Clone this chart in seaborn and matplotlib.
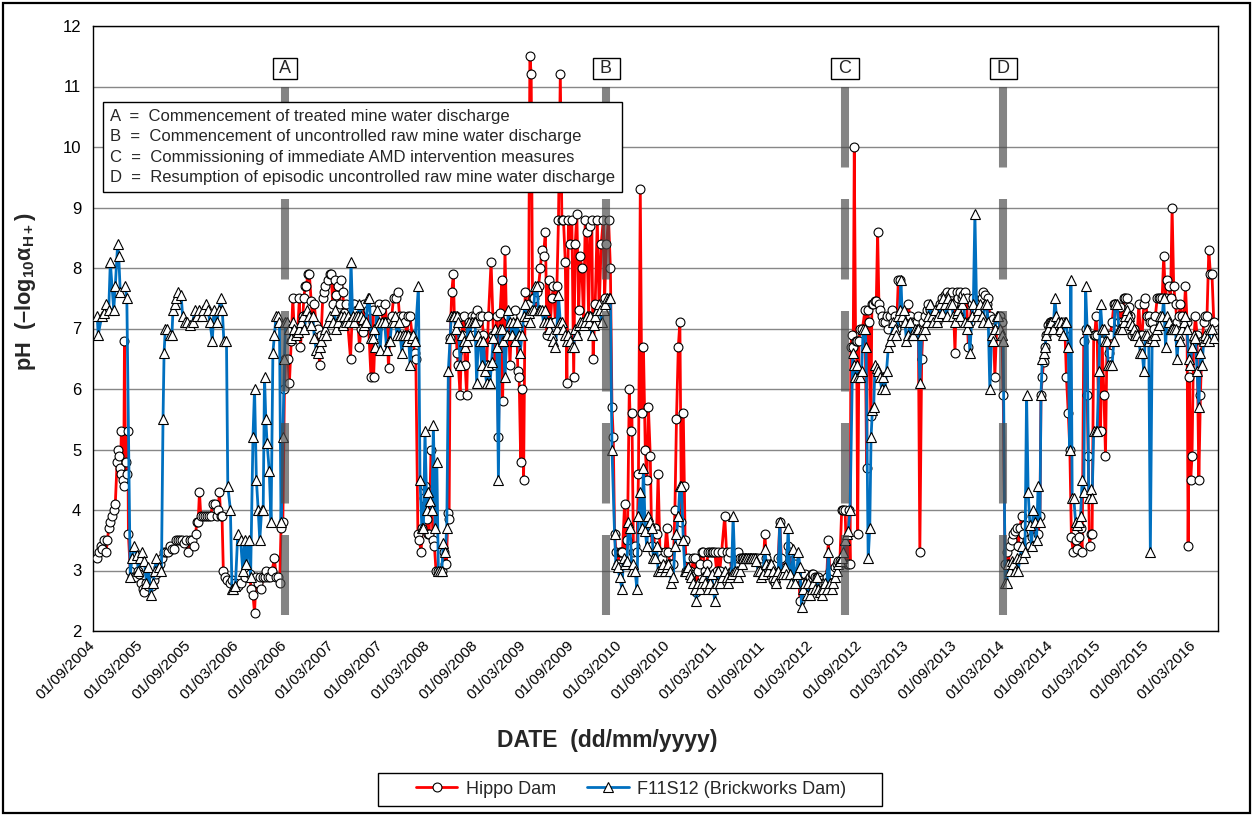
import numpy as np
import pandas as pd
import matplotlib
matplotlib.use("Agg")
import matplotlib.pyplot as plt
import matplotlib.dates as mdates
from matplotlib.lines import Line2D
from matplotlib.patches import Rectangle
import seaborn as sns

# ---------------- data (day offsets from 01/09/2004, pH) ----------------
start_date = "2004-09-01"

hippo_day = [
    16, 23, 29, 35, 41, 50, 55, 60, 66, 73, 79, 85, 92, 95, 98, 102, 105, 108, 113, 117, 120, 124, 128, 133, 135,
    142, 148, 157, 163, 171, 177, 183, 189, 196, 202, 211, 218, 226, 233, 241, 248, 256, 263, 271, 278, 286, 293,
    301, 308, 316, 324, 331, 339, 346, 354, 361, 369, 376, 384, 391, 396, 401, 406, 411, 419, 426, 434, 441, 449,
    456, 464, 472, 477, 482, 487, 492, 497, 504, 512, 522, 530,
    540, 552, 565, 578, 588, 597, 603, 610, 616, 622, 629, 635, 641, 648, 654, 660, 667, 676, 683, 692, 698, 705,
    712, 717, 724, 730, 734, 738, 743, 749, 756, 762, 768, 775, 781, 787, 791, 796, 800, 804, 809, 814, 819, 825,
    832, 838, 844, 851, 857, 864, 870, 876, 881, 886, 895, 902, 908, 914, 921, 927, 933, 940, 946, 952, 959, 965,
    971, 982, 990, 997, 1007, 1016, 1022, 1029, 1035, 1048, 1060, 1068,
    1070, 1076, 1084, 1091, 1099, 1108, 1114, 1120, 1127, 1133, 1139, 1146, 1155, 1162, 1169, 1178, 1184, 1190,
    1197, 1203, 1209, 1218, 1226, 1231, 1239, 1245, 1251, 1256, 1261, 1266, 1272, 1277, 1282, 1289, 1296, 1302,
    1308, 1315, 1322, 1330, 1338, 1343, 1348, 1353, 1358, 1362, 1368, 1374, 1378, 1383, 1388, 1393, 1400, 1406,
    1413, 1419, 1425, 1432, 1438, 1444, 1451, 1457, 1463, 1470, 1476, 1482, 1489, 1495, 1501, 1508, 1518, 1527,
    1533, 1540, 1546, 1552, 1559, 1562, 1571, 1578, 1584, 1590, 1597, 1603,
    1610, 1617, 1620, 1625, 1631, 1636, 1642, 1648, 1655, 1661, 1666, 1671, 1676, 1681, 1686, 1693, 1699, 1706,
    1712, 1718, 1725, 1731, 1737, 1744, 1750, 1756, 1763, 1769, 1775, 1782, 1788, 1794, 1801, 1807, 1813, 1820,
    1826, 1833, 1839, 1845, 1852, 1858, 1864, 1871, 1877, 1883, 1890, 1896, 1902, 1907, 1915, 1923, 1930, 1938,
    1946, 1951, 1958, 1966, 1973, 1979, 1984, 1989, 1995, 2001, 2008, 2014, 2019, 2027, 2032, 2038, 2045, 2050,
    2055, 2061, 2067, 2074, 2080, 2087, 2093, 2099, 2106, 2112, 2118, 2125, 2131, 2137,
    2143, 2149, 2155, 2162, 2168, 2174, 2181, 2187, 2194, 2200, 2206, 2213, 2219, 2225, 2232, 2238, 2244, 2251,
    2255, 2258, 2263, 2270, 2276, 2282, 2289, 2295, 2301, 2308, 2314, 2321, 2327, 2333, 2340, 2346, 2352, 2359,
    2365, 2371, 2378, 2384, 2390, 2397, 2409, 2416, 2422, 2428, 2435, 2441, 2448, 2454, 2460, 2467, 2473, 2479,
    2486, 2492, 2498, 2505, 2511, 2517, 2524, 2530, 2536, 2543, 2549, 2555, 2562, 2568, 2575, 2581, 2587, 2594,
    2600, 2606, 2613, 2619, 2625, 2632, 2638, 2644, 2651, 2657, 2663, 2670,
    2677, 2683, 2690, 2696, 2702, 2709, 2715, 2721, 2728, 2734, 2741, 2747, 2753, 2760, 2766, 2772, 2779, 2785,
    2791, 2798, 2804, 2810, 2817, 2823, 2829, 2836, 2842, 2848, 2855, 2861, 2868, 2874, 2879, 2883, 2887, 2890,
    2894, 2899, 2903, 2908, 2912, 2916, 2921, 2926, 2934, 2944, 2950, 2954, 2959, 2967, 2970, 2975, 2982, 2987,
    2992, 2997, 3002, 3007, 3014, 3020, 3026, 3033, 3039, 3045, 3052, 3058, 3064, 3071, 3077, 3083, 3090, 3096,
    3102, 3109, 3115, 3122, 3128, 3134, 3141, 3147, 3153, 3160, 3166, 3172, 3179, 3185, 3191, 3198, 3204,
    3211, 3217, 3224, 3230, 3236, 3243, 3249, 3255, 3262, 3268, 3274, 3281, 3287, 3293, 3300, 3306, 3312, 3319,
    3325, 3331, 3338, 3344, 3351, 3357, 3363, 3370, 3376, 3382, 3389, 3395, 3401, 3408, 3414, 3420, 3427, 3433,
    3439, 3446, 3452, 3458, 3465, 3471, 3478, 3484, 3490, 3497, 3503, 3509, 3516, 3522, 3528, 3535, 3541, 3547,
    3554, 3560, 3566, 3573, 3579, 3585, 3592, 3598, 3604, 3611, 3615, 3620, 3625, 3630, 3636, 3643, 3649, 3655,
    3662, 3668, 3674, 3681, 3687, 3693, 3700, 3706, 3712, 3719, 3725, 3731, 3738,
    3747, 3753, 3759, 3766, 3772, 3778, 3785, 3791, 3795, 3800, 3805, 3810, 3816, 3820, 3825, 3829, 3836, 3842,
    3848, 3855, 3861, 3867, 3874, 3880, 3886, 3893, 3899, 3905, 3912, 3918, 3924, 3931, 3937, 3943, 3950, 3956,
    3963, 3969, 3975, 3982, 3988, 3994, 4001, 4007, 4013, 4020, 4026, 4032, 4039, 4045, 4051, 4058, 4064, 4070,
    4077, 4083, 4090, 4096, 4102, 4109, 4115, 4121, 4128, 4134, 4140, 4147, 4153, 4159, 4166, 4172, 4176, 4181,
    4186, 4191, 4197, 4204, 4210, 4217, 4223, 4229, 4236, 4242, 4248, 4255, 4261, 4267, 4274,
]
hippo_ph = [
    3.2, 3.3, 3.4, 3.35, 3.5, 3.3, 3.5, 3.7, 3.8, 3.9, 4.0, 4.1, 4.8, 5.0, 4.9, 4.7, 4.6, 5.3, 4.5, 4.4, 6.8, 4.8,
    4.6, 5.3, 3.6, 3.0, 2.9, 2.9, 2.9, 3.0, 2.95, 2.8, 2.7, 2.65, 2.8, 2.75, 2.8, 2.75, 2.85, 2.95, 3.05, 3.1,
    3.2, 3.3, 3.3, 3.3, 3.4, 3.35, 3.35, 3.5, 3.5, 3.5, 3.5, 3.45, 3.5, 3.3, 3.5, 3.5, 3.4, 3.6, 3.8, 3.8, 4.3,
    3.9, 3.9, 3.9, 3.9, 3.9, 3.9, 4.1, 4.1, 3.9, 4.0, 4.3, 3.9, 3.9, 3.0, 2.9, 2.85, 2.8, 2.85,
    2.8, 2.75, 2.8, 2.9, 3.0, 2.95, 2.7, 2.6, 2.3, 2.9, 2.8, 2.9, 2.7, 2.9, 2.9, 3.0, 2.9, 2.9, 3.0, 3.2, 2.9,
    2.9, 2.8, 3.7, 3.8, 6.0, 6.5, 6.5, 6.5, 6.1, 6.8, 7.5, 6.9, 6.9, 7.0, 7.5, 6.7, 7.0, 7.2, 7.5, 7.7, 7.7, 7.9,
    7.9, 7.45, 7.1, 7.4, 7.05, 7.0, 6.4, 6.9, 7.5, 7.6, 7.7, 7.8, 7.9, 7.9, 7.4, 7.8, 7.55, 7.7, 7.4, 7.8, 7.6,
    7.25, 7.4, 7.1, 6.5, 7.4, 7.4, 7.3, 6.7, 7.0, 6.95, 7.4, 7.3, 6.2, 7.3,
    6.2, 6.9, 7.0, 7.4, 7.3, 7.1, 7.4, 7.1, 6.35, 7.1, 7.2, 7.5, 7.5, 7.6, 7.2, 7.1, 7.2, 7.1, 6.9, 7.2, 7.2,
    6.85, 6.6, 6.5, 3.6, 3.5, 3.3, 3.7, 4.2, 4.4, 3.85, 3.6, 3.6, 5.0, 3.5, 3.4, 3.0, 3.0, 3.0, 3.0, 3.3, 3.1,
    3.1, 3.95, 3.85, 6.85, 7.6, 7.9, 7.2, 7.2, 6.6, 6.4, 5.9, 6.9, 7.2, 6.4, 5.9, 7.1, 7.0, 7.2, 6.9, 7.2, 7.3,
    7.1, 7.2, 7.2, 6.9, 6.4, 6.4, 7.2, 8.1, 6.9, 6.4, 7.2, 5.2, 7.25, 7.8, 5.8, 8.3, 6.9, 7.2, 6.4, 7.2, 6.9,
    7.3, 6.9, 6.3, 6.2, 4.8, 6.0, 4.5, 7.6, 7.1, 7.4, 11.5, 11.2, 7.5, 7.5, 7.3, 7.6, 7.7, 8.0, 8.3, 8.2, 8.6,
    6.9, 7.8, 7.1, 7.5, 7.7, 7.1, 7.7, 8.8, 11.2, 8.8, 8.8, 8.1, 6.1, 8.8, 8.4, 8.8, 6.2, 8.4, 8.9, 7.3, 8.2,
    8.0, 7.1, 8.8, 8.6, 7.2, 8.7, 8.8, 6.5, 7.4, 8.8, 7.3, 8.4, 8.8, 7.5, 8.4, 8.8, 8.0, 5.7, 5.2, 3.6, 3.3,
    3.1, 3.3, 3.3, 3.3, 4.1, 3.1, 3.5, 6.0, 5.3, 5.6, 3.3, 3.4, 3.3, 4.6, 9.3, 5.6, 6.7, 5.0, 4.5, 5.7, 4.9,
    3.4, 3.3,
    3.7, 3.6, 4.6, 3.3, 3.2, 3.0, 3.3, 3.7, 3.3, 3.1, 3.1, 3.1, 4.0, 5.5, 6.7, 7.1, 3.8, 5.6, 4.4, 3.5, 3.0,
    3.2, 3.0, 2.95, 3.2, 3.2, 2.65, 3.0, 3.1, 3.3, 3.3, 3.0, 3.1, 3.3, 3.3, 3.3, 3.3, 3.3, 3.0, 3.3, 3.0, 3.3,
    3.9, 3.3, 3.2, 3.3, 3.0, 3.0, 3.1, 3.2, 3.3, 3.2, 3.2, 3.2, 3.2, 3.2, 3.2, 3.2, 3.2, 3.2, 3.2, 3.2, 3.2,
    3.1, 3.2, 3.0, 3.6, 3.2, 3.1, 3.0, 3.0, 2.85, 2.8, 3.1, 3.2, 3.8, 3.2, 2.95, 3.0, 3.05, 3.4, 3.3, 2.95, 3.0,
    3.1, 2.9, 3.0, 2.5, 2.9, 2.8, 2.95, 2.8, 2.85, 2.9, 2.95, 2.95, 2.9, 2.9, 2.9, 2.8, 2.85, 2.8, 2.8, 2.9,
    3.5, 3.0, 2.95, 3.0, 3.05, 3.1, 3.15, 3.15, 4.0, 4.0, 4.0, 3.1, 3.1, 4.0, 3.1, 6.7, 6.9, 6.7, 10.0, 6.8,
    6.8, 3.6, 6.8, 7.0, 7.0, 7.3, 4.7, 7.3, 7.1, 5.55, 7.4, 7.4, 7.45, 7.45, 8.6, 7.4, 7.3, 7.2, 7.1, 7.1,
    7.2, 7.0, 7.2, 7.3, 7.1, 7.2, 7.0, 7.8, 7.8, 7.2, 7.1, 7.2, 7.1, 7.4, 7.2, 7.1, 7.0, 7.1, 7.1, 7.2, 3.3,
    6.5, 7.1, 7.2, 7.3, 7.4, 7.3, 7.2, 7.1,
    7.3, 7.1, 7.2, 7.4, 7.5, 7.4, 7.55, 7.6, 7.5, 7.55, 7.6, 7.4, 6.6, 7.6, 7.5, 7.6, 7.5, 7.55, 7.6, 7.5,
    6.7, 7.1, 7.4, 7.5, 7.3, 7.2, 7.4, 7.4, 7.5, 7.6, 7.55, 7.4, 7.5, 7.2, 7.1, 7.15, 6.2, 7.0, 7.1, 7.2, 7.1,
    5.9, 3.1, 3.3, 3.1, 3.4, 3.5, 3.6, 3.65, 3.7, 3.4, 3.7, 3.9, 3.6, 3.75, 3.5, 3.5, 3.4, 3.55, 3.9, 3.55,
    3.85, 3.6, 3.9, 5.9, 6.2, 6.45, 6.7, 6.9, 7.05, 7.1, 7.1, 7.1, 7.05, 7.1, 7.1, 6.95, 7.05, 7.1, 7.0, 6.2,
    5.6, 5.0, 3.55, 3.3,
    3.5, 3.35, 3.55, 3.7, 3.3, 6.8, 7.0, 5.9, 4.9, 3.4, 3.6, 3.6, 6.9, 6.9, 7.2, 6.9, 5.3, 5.3, 6.8, 5.9, 4.9,
    6.9, 6.6, 6.9, 7.1, 7.4, 7.4, 7.35, 7.1, 7.35, 7.1, 7.5, 7.5, 7.5, 7.35, 7.2, 6.9, 7.0, 6.9, 6.9, 7.4, 6.9,
    6.9, 7.4, 7.5, 7.2, 7.2, 7.1, 7.1, 7.0, 7.2, 7.5, 7.5, 7.5, 7.5, 8.2, 7.5, 7.8, 7.7, 7.5, 9.0, 7.7, 7.4,
    7.1, 7.2, 7.4, 7.2, 7.1, 7.7, 7.1, 3.4, 6.2, 4.5, 4.9, 6.8, 7.2, 6.9, 4.5, 5.9, 6.8, 7.1, 7.2, 7.2, 8.3,
    7.9, 7.9, 7.1,
]

brick_day = [
    16, 20, 33, 41, 50, 60, 66, 79, 85, 94, 98, 104, 123, 129, 142, 148, 158, 167, 173, 179, 188, 196, 204, 211,
    221, 229, 236, 242, 251, 261, 267, 271, 276, 283, 292, 301, 305, 311, 317, 326, 336, 342, 349, 359, 371, 380,
    389, 396, 405, 414, 421, 430, 439, 446, 455, 461, 472, 480, 487, 493, 499, 509, 514, 524, 530,
    533, 543, 552, 563, 571, 578, 584, 593, 601, 610, 616, 623, 630, 636, 643, 649, 654, 659, 664, 672, 679, 686,
    692, 698, 705, 711, 717, 724, 730, 734, 740, 749, 756, 762, 768, 775, 781, 787, 794, 800, 806, 816, 825, 832,
    838, 844, 851, 857, 864, 870, 876, 883, 889, 895, 905, 914, 921, 927, 933, 940, 946, 952, 959, 965, 971, 978,
    984, 990, 997, 1003, 1010, 1016, 1022, 1029, 1035, 1041, 1048, 1054, 1060, 1068,
    1070, 1076, 1082, 1089, 1095, 1101, 1112, 1120, 1127, 1133, 1139, 1146, 1152, 1159, 1165, 1171, 1178, 1184,
    1190, 1197, 1203, 1209, 1216, 1222, 1228, 1241, 1247, 1254, 1260, 1266, 1273, 1279, 1286, 1292, 1298, 1305,
    1311, 1317, 1324, 1330, 1336, 1343, 1349, 1355, 1362, 1366, 1371, 1378, 1383, 1388, 1393, 1400, 1406, 1413,
    1419, 1425, 1432, 1438, 1444, 1451, 1457, 1463, 1470, 1476, 1482, 1489, 1495, 1501, 1508, 1514, 1520, 1527,
    1533, 1540, 1546, 1552, 1559, 1565, 1571, 1578, 1584, 1590, 1597, 1603,
    1610, 1617, 1623, 1629, 1636, 1642, 1648, 1655, 1661, 1667, 1674, 1680, 1686, 1693, 1699, 1706, 1712, 1718,
    1725, 1731, 1737, 1744, 1750, 1756, 1763, 1769, 1775, 1782, 1788, 1794, 1801, 1807, 1813, 1820, 1826, 1833,
    1839, 1845, 1852, 1858, 1864, 1871, 1877, 1883, 1890, 1896, 1902, 1909, 1915, 1921, 1928, 1934, 1940, 1947,
    1953, 1960, 1966, 1973, 1979, 1989, 1994, 2001, 2008, 2017, 2023, 2029, 2036, 2042, 2048, 2055, 2061, 2067,
    2074, 2080, 2087, 2093, 2099, 2106, 2112, 2118, 2125, 2131, 2137,
    2143, 2149, 2155, 2162, 2168, 2174, 2181, 2187, 2194, 2200, 2206, 2213, 2219, 2225, 2232, 2238, 2244, 2251,
    2257, 2263, 2270, 2276, 2282, 2289, 2295, 2301, 2308, 2314, 2321, 2327, 2333, 2340, 2346, 2352, 2359, 2365,
    2371, 2378, 2384, 2390, 2397, 2409, 2416, 2422, 2428, 2435, 2441, 2448, 2454, 2460, 2467, 2473, 2479, 2486,
    2492, 2498, 2505, 2511, 2517, 2524, 2530, 2536, 2543, 2549, 2555, 2562, 2568, 2575, 2581, 2587, 2594, 2600,
    2606, 2613, 2619, 2625, 2632, 2638, 2644, 2651, 2657, 2663, 2670,
    2677, 2683, 2690, 2696, 2702, 2709, 2715, 2721, 2728, 2734, 2741, 2747, 2753, 2760, 2766, 2772, 2779, 2785,
    2791, 2798, 2804, 2810, 2817, 2823, 2829, 2836, 2842, 2848, 2855, 2861, 2868, 2874, 2880, 2887, 2897, 2901,
    2906, 2912, 2918, 2925, 2931, 2937, 2944, 2948, 2956, 2962, 2967, 2972, 2977, 2982, 2988, 2995, 3001, 3007,
    3014, 3020, 3026, 3033, 3039, 3045, 3052, 3058, 3064, 3071, 3076, 3081, 3086, 3091, 3096, 3102, 3109, 3115,
    3122, 3128, 3134, 3141, 3147, 3153, 3160, 3166, 3172, 3179, 3185, 3191, 3198, 3204,
    3211, 3217, 3224, 3230, 3236, 3243, 3249, 3255, 3262, 3268, 3274, 3281, 3287, 3293, 3300, 3306, 3312, 3319,
    3325, 3331, 3338, 3344, 3351, 3357, 3363, 3370, 3376, 3382, 3389, 3395, 3401, 3408, 3414, 3420, 3427, 3433,
    3439, 3446, 3452, 3458, 3465, 3471, 3478, 3484, 3490, 3497, 3503, 3509, 3516, 3522, 3528, 3535, 3541, 3547,
    3554, 3560, 3566, 3573, 3579, 3585, 3592, 3598, 3604, 3611, 3615, 3620, 3625, 3630, 3636, 3643, 3649, 3655,
    3662, 3668, 3674, 3681, 3687, 3693, 3700, 3706, 3712, 3719, 3725, 3729, 3734,
    3740, 3747, 3753, 3759, 3766, 3772, 3778, 3785, 3791, 3797, 3804, 3810, 3816, 3823, 3829, 3836, 3842, 3848,
    3855, 3861, 3867, 3871, 3880, 3886, 3893, 3897, 3905, 3912, 3918, 3924, 3931, 3937, 3943, 3950, 3956, 3963,
    3969, 3975, 3982, 3988, 3994, 4001, 4007, 4013, 4020, 4026, 4032, 4039, 4045, 4051, 4058, 4064, 4070, 4077,
    4083, 4090, 4096, 4102, 4109, 4115, 4121, 4128, 4134, 4140, 4147, 4153, 4159, 4166, 4172, 4178, 4185, 4191,
    4197, 4204, 4210, 4217, 4223, 4229, 4236, 4242, 4248, 4255, 4261, 4267, 4274,
]
brick_ph = [
    7.2, 6.9, 7.2, 7.25, 7.4, 7.3, 8.1, 7.3, 7.7, 8.4, 8.2, 7.6, 7.7, 7.5, 2.9, 3.2, 3.4, 3.25, 3.0, 3.2, 3.3,
    3.15, 2.8, 3.05, 2.6, 2.8, 3.0, 3.2, 3.05, 3.0, 5.5, 6.6, 7.0, 7.0, 6.9, 6.9, 7.3, 7.4, 7.5, 7.6, 7.55, 7.2,
    7.1, 7.1, 7.05, 7.1, 7.3, 7.2, 7.3, 7.2, 7.3, 7.4, 7.3, 7.1, 6.8, 7.3, 7.1, 7.3, 7.5, 7.3, 6.8, 6.8, 4.4,
    4.0, 2.7,
    2.7, 2.75, 3.6, 3.5, 3.0, 3.5, 3.1, 3.5, 2.9, 5.2, 6.0, 4.5, 4.0, 3.5, 4.0, 4.0, 6.2, 5.5, 5.1, 4.65, 3.8,
    6.6, 6.9, 7.2, 7.2, 7.1, 3.8, 5.2, 6.5, 7.1, 7.1, 7.0, 6.85, 7.1, 7.0, 6.9, 6.95, 7.0, 7.1, 7.2, 7.0, 7.3,
    7.2, 7.05, 7.2, 6.85, 6.65, 6.6, 6.7, 6.8, 6.9, 7.0, 6.9, 7.1, 7.2, 7.1, 7.3, 7.0, 7.1, 7.2, 7.2, 7.05,
    7.2, 7.1, 7.2, 7.1, 8.1, 7.2, 7.1, 7.2, 7.2, 7.4, 7.2, 7.15, 7.05, 7.1, 7.5, 7.5, 6.85, 6.85,
    7.0, 6.7, 7.3, 7.1, 6.65, 7.1, 7.1, 6.65, 6.8, 6.8, 7.1, 7.1, 7.2, 6.9, 7.1, 6.9, 6.6, 6.9, 6.9, 6.8, 6.9,
    6.4, 6.85, 6.9, 6.8, 7.7, 4.5, 3.7, 3.7, 5.3, 4.0, 4.3, 4.15, 4.0, 5.4, 3.7, 4.8, 3.0, 3.0, 3.0, 3.45, 3.3,
    3.7, 6.3, 6.85, 7.2, 7.2, 7.2, 7.0, 7.2, 7.1, 6.4, 6.9, 6.8, 6.7, 6.8, 7.1, 6.9, 7.1, 7.1, 7.1, 6.1, 6.9,
    6.8, 6.4, 6.8, 6.3, 6.1, 6.4, 6.1, 6.45, 6.85, 7.0, 6.7, 4.5, 7.0, 7.0, 6.8, 6.2, 6.9, 7.3, 7.1, 6.9, 7.1,
    6.8, 7.1, 6.9, 6.6, 6.9, 7.2, 7.4, 7.2, 7.25, 7.1, 7.3, 7.3, 7.7, 7.7, 7.3, 7.3, 7.3, 7.1, 7.3, 7.1, 7.0,
    7.1, 6.9, 6.8, 6.7, 7.0, 7.55, 7.1, 7.1, 7.0, 6.9, 6.8, 6.9, 6.8, 6.7, 6.7, 7.0, 6.9, 7.05, 7.1, 7.1, 7.05,
    7.1, 7.2, 7.1, 7.2, 6.9, 7.05, 7.2, 7.3, 7.4, 7.3, 7.1, 7.3, 7.4, 7.5, 7.5, 7.5, 5.0, 3.6, 3.1, 3.05, 2.9,
    2.7, 3.2, 3.1, 3.15, 3.8, 3.7, 3.0, 3.1, 3.0, 2.7, 3.9, 4.3, 3.7, 4.7, 3.65, 3.4, 3.9, 3.8, 3.7, 3.2,
    3.2, 3.4, 3.0, 3.0, 3.05, 3.1, 3.0, 3.05, 3.1, 3.0, 2.8, 2.9, 3.4, 3.6, 3.9, 4.4, 4.4, 3.5, 3.0, 3.0, 3.05,
    2.95, 2.9, 2.8, 2.7, 2.5, 2.8, 2.7, 2.8, 2.9, 2.8, 3.0, 2.7, 2.8, 2.95, 2.7, 2.5, 2.8, 3.0, 2.8, 2.9, 3.0,
    2.9, 2.8, 2.9, 2.95, 3.9, 3.0, 3.0, 2.9, 3.0, 3.1, 3.2, 3.2, 3.2, 3.2, 3.2, 3.2, 3.2, 3.2, 3.15, 3.0, 3.0,
    2.9, 2.95, 3.35, 3.1, 3.0, 3.1, 3.1, 3.0, 2.9, 2.8, 3.0, 3.8, 2.95, 2.95, 3.05, 2.95, 3.7, 2.95, 2.8, 3.35,
    2.8, 2.95, 3.3, 3.05, 2.4, 2.7, 2.8, 2.6, 2.8, 2.6, 2.7, 2.8, 2.7, 2.9, 2.7, 2.65, 2.6, 2.7, 2.8, 2.7, 3.3,
    2.8, 2.7, 2.8, 2.9, 3.0, 3.1, 3.15, 3.2, 3.3, 3.5, 3.6, 3.65, 4.0, 6.6, 6.4, 6.2, 6.4, 6.2, 6.2, 6.3, 7.0,
    7.0, 6.7, 3.2, 3.7, 5.2, 5.65, 5.7, 6.4, 6.35, 6.3, 6.2, 6.0, 6.2, 6.0, 6.3, 6.7, 6.8, 6.9, 7.1, 7.0, 6.9,
    7.2, 7.3, 7.8, 7.2, 7.3, 7.1, 6.8, 6.9, 7.1, 6.9, 6.9, 7.0, 7.0, 7.0, 6.1, 6.9, 7.0, 7.0, 7.1, 7.2, 7.4,
    7.2, 7.1,
    7.3, 7.1, 7.2, 7.4, 7.25, 7.5, 7.4, 7.2, 7.5, 7.4, 7.4, 7.2, 7.1, 7.25, 7.3, 7.2, 7.4, 7.5, 7.1, 7.0, 7.1,
    6.6, 7.2, 7.4, 8.9, 7.2, 7.3, 7.4, 7.2, 7.1, 7.4, 7.4, 7.1, 6.0, 6.9, 6.8, 7.0, 7.2, 7.2, 7.0, 6.9, 6.8,
    2.8, 2.8, 3.1, 3.0, 3.15, 3.1, 3.0, 3.2, 3.0, 3.2, 3.4, 3.2, 3.3, 5.9, 4.3, 3.75, 3.4, 4.0, 3.8, 3.5, 4.4,
    3.8, 5.9, 6.5, 6.6, 6.7, 6.9, 7.0, 7.1, 7.1, 7.0, 7.5, 7.2, 7.1, 7.0, 7.1, 6.9, 7.1, 7.1, 6.7, 5.0, 7.8,
    4.2,
    4.2, 3.8, 3.75, 3.8, 3.9, 4.5, 4.3, 7.7, 7.0, 4.2, 4.35, 4.2, 5.3, 5.3, 5.3, 6.3, 7.4, 7.0, 7.0, 6.8, 6.8,
    6.4, 6.4, 6.4, 6.8, 7.4, 7.4, 7.0, 7.0, 7.0, 7.1, 7.2, 7.3, 7.2, 7.1, 7.05, 7.0, 6.9, 6.9, 6.8, 6.6, 6.6,
    6.3, 6.9, 6.9, 6.8, 3.3, 6.85, 6.8, 6.9, 7.0, 7.05, 7.2, 7.2, 7.5, 6.7, 7.2, 7.1, 7.0, 7.0, 7.0, 7.0, 6.5,
    6.9, 6.8, 7.0, 7.1, 7.2, 7.0, 6.5, 6.4, 6.7, 6.9, 6.85, 6.3, 5.7, 6.6, 6.4, 6.8, 6.9, 6.85, 6.8, 7.0, 7.0,
    6.85,
]

event_labels = ["A", "B", "C", "D"]
event_dates = ["2006-09-04", "2010-01-11", "2012-07-09", "2014-03-04"]
event_text = [
    "A  =  Commencement of treated mine water discharge",
    "B  =  Commencement of uncontrolled raw mine water discharge",
    "C  =  Commissioning of immediate AMD intervention measures",
    "D  =  Resumption of episodic uncontrolled raw mine water discharge",
]
series_names = ["Hippo Dam", "F11S12 (Brickworks Dam)"]
tick_dates = pd.date_range("2004-09-01", "2016-03-01", freq="6MS")
y_ticks = list(range(2, 13))

# ---------------- style ----------------
sns.set_style("white")
plt.rcParams["font.family"] = ["Liberation Sans", "DejaVu Sans"]
plt.rcParams["mathtext.fontset"] = "custom"
plt.rcParams["mathtext.rm"] = "Liberation Sans:bold"
plt.rcParams["mathtext.it"] = "Liberation Sans:bold"
plt.rcParams["mathtext.bf"] = "Liberation Sans:bold"
plt.rcParams["lines.scale_dashes"] = False

W, H = 1253, 816
fig = plt.figure(figsize=(W / 100, H / 100), dpi=100)
L, R, T, B = 93, 1218, 26, 631
ax = fig.add_axes([L / W, 1 - B / H, (R - L) / W, (B - T) / H])

t0 = pd.Timestamp(start_date)
hippo = pd.DataFrame({"date": t0 + pd.to_timedelta(hippo_day, unit="D"), "pH": hippo_ph})
brick = pd.DataFrame({"date": t0 + pd.to_timedelta(brick_day, unit="D"), "pH": brick_ph})

red, blue = "#FF0000", "#0070C0"
sns.lineplot(data=hippo, x="date", y="pH", ax=ax, estimator=None, sort=False, legend=False,
             color=red, linewidth=2.0, marker="o", markersize=6.4, markerfacecolor="white",
             markeredgecolor="black", markeredgewidth=0.8, zorder=3)
sns.lineplot(data=brick, x="date", y="pH", ax=ax, estimator=None, sort=False, legend=False,
             color=blue, linewidth=2.0, marker="^", markersize=7.0, markerfacecolor="white",
             markeredgecolor="black", markeredgewidth=0.8, zorder=3)

# event markers (dashed grey bars) and letter boxes
on_px, off_px = 80.5, 31.5
for lab, d in zip(event_labels, event_dates):
    dt = pd.Timestamp(d)
    ax.plot([dt, dt], [11.0, 2.27], color="#4a4a4a", alpha=0.68, linewidth=5.8, solid_capstyle="butt",
            dash_capstyle="butt", linestyle=(0, (on_px * 0.72, off_px * 0.72)), zorder=5)
    ax.text(dt, 11.3, " " + lab + " ", ha="center", va="center", fontsize=13, zorder=6,
            bbox=dict(boxstyle="square,pad=0.12", fc="white", ec="black", lw=1.0))

# axes formatting
ax.set_xlim(pd.Timestamp("2004-09-01"), pd.Timestamp("2016-05-31"))
ax.set_ylim(2, 12)
ax.set_yticks(y_ticks)
ax.set_xticks(tick_dates)
ax.xaxis.set_major_formatter(mdates.DateFormatter("%d/%m/%Y"))
ax.grid(axis="y", color="#878787", linewidth=1.0)
ax.grid(axis="x", visible=False)
ax.set_axisbelow(True)
for s in ax.spines.values():
    s.set_color("black")
    s.set_linewidth(1.0)
ax.tick_params(axis="both", which="major", direction="out", length=5, width=1, color="black",
               labelsize=12, labelcolor="black")
ax.tick_params(axis="x", pad=4, labelsize=11)
for lbl in ax.get_xticklabels():
    lbl.set_rotation(45)
    lbl.set_ha("right")
    lbl.set_va("center")
    lbl.set_rotation_mode("anchor")

ax.set_xlabel("")
ax.set_ylabel(r"pH  (–log$_{10}$$\alpha_{H+}$)", fontsize=15.7, fontweight="bold")
ax.yaxis.set_label_coords((38 - L) / (R - L), 0.56)
fig.text(607 / W, 1 - 741 / H, "DATE  (dd/mm/yyyy)", ha="center", va="center",
         fontsize=16.5, fontweight="bold")

# annotation box
fig.text(110 / W, 1 - 109 / H, "\n".join(event_text), ha="left", va="top", fontsize=12,
         linespacing=1.45, zorder=10,
         bbox=dict(boxstyle="square,pad=0.42", fc="white", ec="black", lw=1.0))

# legend (frame drawn separately to match the wide Excel-style legend box)
handles = [
    Line2D([], [], color=red, linewidth=2.0, marker="o", markersize=6.4, markerfacecolor="white",
           markeredgecolor="black", markeredgewidth=0.8),
    Line2D([], [], color=blue, linewidth=2.0, marker="^", markersize=7.0, markerfacecolor="white",
           markeredgecolor="black", markeredgewidth=0.8),
]
leg = fig.legend(handles, series_names, loc="center", bbox_to_anchor=(631 / W, 1 - 789 / H), ncol=2,
                 frameon=False, fontsize=13, handlelength=2.3, handletextpad=0.45, columnspacing=1.75)
fig.patches.append(Rectangle((378 / W, 1 - 806 / H), (882 - 378) / W, 33 / H, transform=fig.transFigure,
                             fill=True, facecolor="white", edgecolor="black", linewidth=1.0, zorder=0))

# outer border
fig.patches.append(Rectangle((3 / W, 3 / H), (W - 6) / W, (H - 6) / H, transform=fig.transFigure,
                             fill=False, edgecolor="black", linewidth=1.6))

fig.savefig("out.png", dpi=100)
